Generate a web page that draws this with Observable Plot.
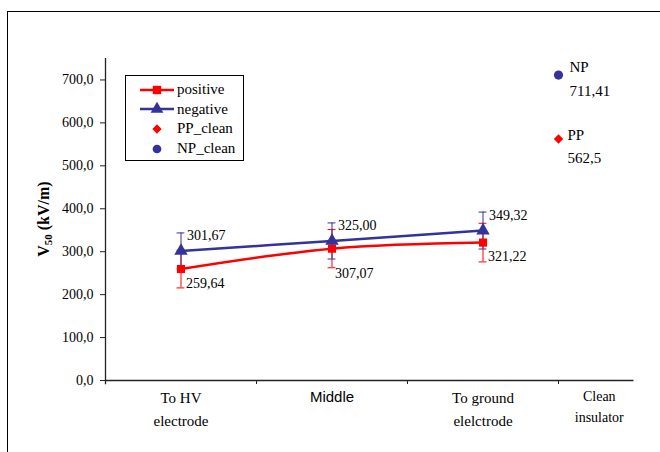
<!DOCTYPE html>
<html>
<head>
<meta charset="utf-8">
<script src="https://cdn.jsdelivr.net/npm/d3@7"></script>
<script src="https://cdn.jsdelivr.net/npm/@observablehq/plot@0.6"></script>
<style>
  html, body { margin: 0; padding: 0; background: #fff; }
  #wrap { position: relative; width: 660px; height: 452px; overflow: hidden; background: #fff; }
  #frame { position: absolute; left: 7px; top: 11px; width: 720px; height: 520px;
           border-left: 1.5px solid #000; border-top: 1.5px solid #000; }
  #chart { position: absolute; left: 0; top: 0; }
  #legend { position: absolute; left: 125px; top: 75px; width: 119px; height: 86px;
            border: 1px solid #000; background: #fff; font-family: "Liberation Serif", serif;
            font-size: 15px; box-sizing: border-box; padding-top: 4px; }
  .row { display: flex; align-items: center; height: 19.6px; }
  .row svg { margin-left: 14px; margin-right: 3px; }
</style>
</head>
<body>
<div id="wrap">
  <div id="frame"></div>
  <div id="chart"></div>
  <div id="legend"></div>
</div>
<script>
// ---- data ----
const categories = ["To HV\nelectrode", "Middle", "To ground\nelelctrode", "Clean\ninsulator"];
const categoryPos = [0.5, 1.5, 2.5, 3.27];
const positive = [259.64, 307.07, 321.22];
const negative = [301.67, 325.00, 349.32];
const positiveErr = [44, 44.5, 45];
const negativeErr = [42, 42, 43];
const ppClean = 562.5;
const npClean = 711.41;
const cleanPos = 3;
const yTicks = [0, 100, 200, 300, 400, 500, 600, 700];
const yTitle = "V50 (kV/m)";

const RED = "#ff0000", BLUE = "#333399";
const fmt2 = v => v.toFixed(2).replace(".", ",");

const pos = positive.map((v, i) => ({x: categoryPos[i], y: v, e: positiveErr[i], i}));
const neg = negative.map((v, i) => ({x: categoryPos[i], y: v, e: negativeErr[i], i}));
const cats = categories.map((c, i) => ({x: categoryPos[i], label: c}));
const capW = 0.026;

const plot = Plot.plot({
  width: 660,
  height: 452,
  marginLeft: 105,
  marginRight: 26.5,
  marginTop: 58,
  marginBottom: 72,
  x: {domain: [0, 3.5], axis: null},
  y: {domain: [0, 750], axis: null},
  style: {fontFamily: "Liberation Serif, serif", fontSize: "14px", color: "#000", background: "transparent"},
  marks: [
    Plot.axisY({ticks: yTicks, tickFormat: d => d.toFixed(1).replace(".", ","), tickSize: 5, tickPadding: 7,
                fontSize: 14, stroke: "#222", label: null}),
    Plot.ruleX([0], {y1: -10, y2: 750, stroke: "#222", strokeWidth: 1.3}),
    Plot.ruleY([0], {x1: 0, x2: 3.5, stroke: "#222", strokeWidth: 1.3}),
    Plot.axisX({ticks: [1, 2, 3], tickFormat: () => "", tickSize: 4, stroke: "#222", label: null}),
    Plot.text(cats.filter(d => d.label.includes("\n") && !d.label.startsWith("Clean")),
      {x: "x", y: 0, text: "label", dy: 26.5, fontSize: 15, lineHeight: 1.53}),
    Plot.text(cats.filter(d => d.label === "Middle"),
      {x: "x", y: 0, text: "label", dy: 17, fontSize: 15, fontFamily: "Liberation Sans, Arial, sans-serif"}),
    Plot.text(cats.filter(d => d.label.startsWith("Clean")),
      {x: "x", y: 0, text: "label", dy: 24, fontSize: 14, lineHeight: 1.5}),
    Plot.text([yTitle], {x: -0.41, y: 376, rotate: -90, fontWeight: "bold", fontSize: 16, className: "ytitle"}),
    Plot.ruleX(pos, {x: "x", y1: d => d.y - d.e, y2: d => d.y + d.e, stroke: RED, strokeWidth: 1}),
    Plot.ruleY(pos, {y: d => d.y - d.e, x1: d => d.x - capW, x2: d => d.x + capW, stroke: RED, strokeWidth: 1}),
    Plot.ruleY(pos, {y: d => d.y + d.e, x1: d => d.x - capW, x2: d => d.x + capW, stroke: RED, strokeWidth: 1}),
    Plot.ruleX(neg, {x: "x", y1: d => d.y - d.e, y2: d => d.y + d.e, stroke: BLUE, strokeWidth: 1}),
    Plot.ruleY(neg, {y: d => d.y - d.e, x1: d => d.x - capW, x2: d => d.x + capW, stroke: BLUE, strokeWidth: 1}),
    Plot.ruleY(neg, {y: d => d.y + d.e, x1: d => d.x - capW, x2: d => d.x + capW, stroke: BLUE, strokeWidth: 1}),
    Plot.line(pos, {x: "x", y: "y", stroke: RED, strokeWidth: 2.5, curve: "catmull-rom"}),
    Plot.dot(pos, {x: "x", y: "y", symbol: "square", r: 4.6, fill: RED, stroke: "none"}),
    Plot.line(neg, {x: "x", y: "y", stroke: BLUE, strokeWidth: 2.5, curve: "catmull-rom"}),
    Plot.dot(neg, {x: "x", y: "y", symbol: "triangle", r: 5, fill: BLUE, stroke: "none"}),
    Plot.text(neg, {x: "x", y: "y", text: d => fmt2(d.y), textAnchor: "start", dx: 6, dy: -15, fontSize: 14}),
    Plot.text(pos.filter(d => d.i !== 1), {x: "x", y: "y", text: d => fmt2(d.y), textAnchor: "start", dx: 5, dy: 14, fontSize: 14}),
    Plot.text(pos.filter(d => d.i === 1), {x: "x", y: "y", text: d => fmt2(d.y), textAnchor: "start", dx: 3, dy: 25, fontSize: 14}),
    Plot.dot([npClean], {x: cleanPos, y: d => d, symbol: "circle", r: 4.6, fill: BLUE, stroke: "none"}),
    Plot.dot([ppClean], {x: cleanPos, y: d => d, symbol: "diamond2", r: 4.2, fill: RED, stroke: "none"}),
    Plot.text([npClean], {x: cleanPos, y: d => d, text: d => "NP\n" + String(d).replace(".", ","),
      textAnchor: "start", dx: 11, dy: 1, fontSize: 15, lineHeight: 1.6}),
    Plot.text([ppClean], {x: cleanPos, y: d => d, text: d => "PP\n" + String(d).replace(".", ","),
      textAnchor: "start", dx: 9, dy: 5, fontSize: 15, lineHeight: 1.55})
  ]
});
document.getElementById("chart").appendChild(plot);

// subscript "50" in the y title
d3.select(plot).selectAll("g.ytitle text").each(function () {
  const t = d3.select(this);
  const s = t.text();
  t.text(null);
  t.append("tspan").text(s.slice(0, 1));
  t.append("tspan").attr("font-size", 11).attr("dy", 3).text(s.slice(1, 3));
  t.append("tspan").attr("dy", -3).text(s.slice(3));
});

// ---- legend ----
const legendItems = [
  {label: "positive", color: RED, line: true, symbol: d3.symbolSquare, size: 70},
  {label: "negative", color: BLUE, line: true, symbol: d3.symbolTriangle, size: 70},
  {label: "PP_clean", color: RED, line: false, symbol: d3.symbolDiamond2, size: 55},
  {label: "NP_clean", color: BLUE, line: false, symbol: d3.symbolCircle, size: 60}
];
const legend = d3.select("#legend");
for (const it of legendItems) {
  const row = legend.append("div").attr("class", "row");
  const s = row.append("svg").attr("width", 34).attr("height", 14);
  if (it.line) s.append("line").attr("x1", 0).attr("x2", 34).attr("y1", 7).attr("y2", 7)
    .attr("stroke", it.color).attr("stroke-width", 2.5);
  s.append("path").attr("d", d3.symbol(it.symbol, it.size)()).attr("transform", "translate(17,7)")
    .attr("fill", it.color);
  row.append("span").text(it.label);
}
</script>
</body>
</html>
